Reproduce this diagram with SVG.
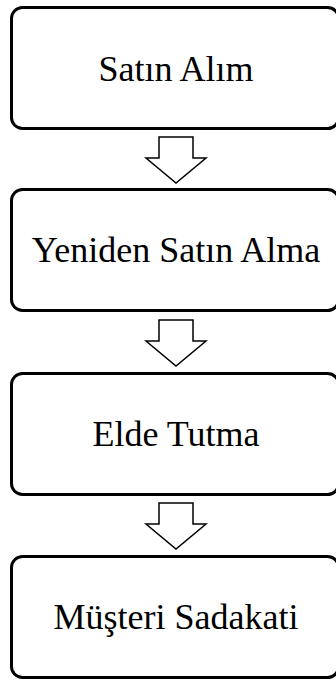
<svg xmlns="http://www.w3.org/2000/svg" width="336" height="682" viewBox="0 0 336 682">
  <style>
    .box { fill: #ffffff; stroke: #000000; stroke-width: 3; }
    .label { font-family: "Liberation Serif", "Times New Roman", serif; font-size: 36px; fill: #000000; text-anchor: middle; }
    .arrow { fill: #ffffff; stroke: #000000; stroke-width: 1.5; stroke-linejoin: miter; }
  </style>
  <defs>
    <!-- block down-arrow, origin at the top-left of its shaft -->
    <polygon id="downArrow" class="arrow" points="0,0 34,0 34,21 47,21 17,46 -13,21 0,21"/>
  </defs>
  <rect width="336" height="682" fill="#ffffff"/>

  <g id="connectors">
    <use href="#downArrow" x="159" y="137"/>
    <use href="#downArrow" x="159" y="320"/>
    <use href="#downArrow" x="159" y="503"/>
  </g>

  <g id="node-satin-alim">
    <rect class="box" x="11.5" y="7.5" width="327" height="121" rx="11"/>
    <text class="label" x="176" y="81">Satın Alım</text>
  </g>
  <g id="node-yeniden-satin-alma">
    <rect class="box" x="11.5" y="189.5" width="327" height="121" rx="11"/>
    <text class="label" x="176" y="262">Yeniden Satın Alma</text>
  </g>
  <g id="node-elde-tutma">
    <rect class="box" x="11.5" y="373.5" width="327" height="121" rx="11"/>
    <text class="label" x="176" y="446">Elde Tutma</text>
  </g>
  <g id="node-musteri-sadakati">
    <rect class="box" x="11.5" y="556.5" width="327" height="121" rx="11"/>
    <text class="label" x="176" y="629">Müşteri Sadakati</text>
  </g>
</svg>
